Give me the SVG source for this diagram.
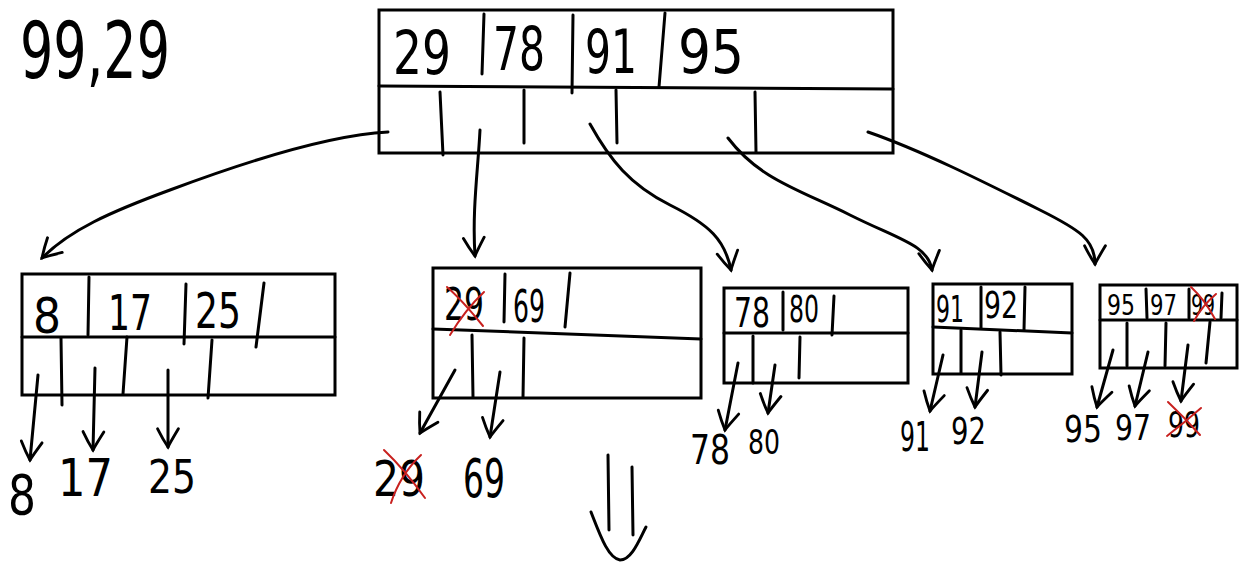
<svg xmlns="http://www.w3.org/2000/svg" width="1241" height="567" viewBox="0 0 1241 567">
<defs>
<style>
.box{fill:none;stroke:#000;stroke-width:3}
.ln{fill:none;stroke:#000;stroke-width:3;stroke-linecap:round;stroke-linejoin:round}
.x{fill:none;stroke:#c8201e;stroke-width:2;stroke-linecap:round}
.t{font-family:"DejaVu Sans","Liberation Sans",sans-serif;fill:#000;font-weight:normal}
.arr{fill:none;stroke:#000;stroke-width:3;stroke-linecap:round;stroke-linejoin:round;marker-end:url(#v)}
</style>
<marker id="v" viewBox="0 0 20 20" refX="18" refY="10" markerWidth="26" markerHeight="26" markerUnits="userSpaceOnUse" orient="auto">
<path d="M4,2 Q14,8 18,10 Q12,14 4,18" fill="none" stroke="#000" stroke-width="2.2" stroke-linecap="round"/>
</marker>
</defs>
<rect width="1241" height="567" fill="#fff"/>

<g id="title">
<text class="t" x="20" y="78" font-size="78" textLength="150" lengthAdjust="spacingAndGlyphs">99,29</text>
</g>

<g id="root">
<rect class="box" x="379" y="10" width="514" height="143"/>
<path class="ln" d="M379,86 L893,89"/>
<text class="t" x="393" y="74" font-size="60" textLength="58" lengthAdjust="spacingAndGlyphs">29</text>
<text class="t" x="493" y="70" font-size="60" textLength="52" lengthAdjust="spacingAndGlyphs">78</text>
<text class="t" x="585" y="73" font-size="60" textLength="52" lengthAdjust="spacingAndGlyphs">91</text>
<text class="t" x="678" y="73" font-size="60" textLength="66" lengthAdjust="spacingAndGlyphs">95</text>
<path class="ln" d="M484,14 L482,74 M573,15 L572,93 M665,13 L659,87"/>
<path class="ln" d="M440,92 L443,155 M524,90 L524,143 M616,90 L617,143 M755,92 L756,152"/>
</g>

<g id="leaf1">
<rect class="box" x="22" y="274" width="313" height="121"/>
<path class="ln" d="M22,337 L335,337"/>
<text class="t" x="33" y="333" font-size="50" textLength="28" lengthAdjust="spacingAndGlyphs">8</text>
<text class="t" x="108" y="330" font-size="50" textLength="44" lengthAdjust="spacingAndGlyphs">17</text>
<text class="t" x="195" y="328" font-size="50" textLength="46" lengthAdjust="spacingAndGlyphs">25</text>
<path class="ln" d="M89,277 L88,335 M186,284 L184,344 M264,283 L256,347"/>
<path class="ln" d="M61,338 L62,405 M127,337 L123,394 M212,340 L208,398"/>
<text class="t" x="8" y="514" font-size="56" textLength="28" lengthAdjust="spacingAndGlyphs">8</text>
<text class="t" x="58" y="496" font-size="52" textLength="55" lengthAdjust="spacingAndGlyphs">17</text>
<text class="t" x="148" y="493" font-size="46" textLength="48" lengthAdjust="spacingAndGlyphs">25</text>
</g>

<g id="leaf2">
<rect class="box" x="433" y="268" width="268" height="130"/>
<path class="ln" d="M433,329 L701,339"/>
<text class="t" x="444" y="320" font-size="44" textLength="40" lengthAdjust="spacingAndGlyphs">29</text>
<path class="x" d="M447,287 Q462,300 483,326 M484,292 Q465,310 450,335"/>
<path class="ln" d="M505,274 L504,322 M570,273 L565,327"/>
<text class="t" x="513" y="322" font-size="44" textLength="32" lengthAdjust="spacingAndGlyphs">69</text>
<path class="ln" d="M472,335 L473,397 M524,338 L523,397"/>
<text class="t" x="373" y="496" font-size="50" textLength="52" lengthAdjust="spacingAndGlyphs">29</text>
<path class="x" d="M384,450 Q405,470 425,498 M421,455 Q400,475 391,503"/>
<text class="t" x="463" y="497" font-size="54" textLength="42" lengthAdjust="spacingAndGlyphs">69</text>
</g>

<g id="leaf3">
<rect class="box" x="724" y="288" width="184" height="95"/>
<path class="ln" d="M724,333 L908,333"/>
<text class="t" x="734" y="327" font-size="40" textLength="36" lengthAdjust="spacingAndGlyphs">78</text>
<path class="ln" d="M783,292 L783,330 M834,296 L832,335"/>
<text class="t" x="789" y="322" font-size="38" textLength="30" lengthAdjust="spacingAndGlyphs">80</text>
<path class="ln" d="M753,336 L753,383 M800,337 L799,378"/>
<text class="t" x="690" y="464" font-size="40" textLength="40" lengthAdjust="spacingAndGlyphs">78</text>
<text class="t" x="748" y="454" font-size="34" textLength="32" lengthAdjust="spacingAndGlyphs">80</text>
</g>

<g id="leaf4">
<rect class="box" x="933" y="284" width="139" height="90"/>
<path class="ln" d="M933,327 L1072,333"/>
<text class="t" x="936" y="322" font-size="38" textLength="28" lengthAdjust="spacingAndGlyphs">91</text>
<path class="ln" d="M981,287 L981,328 M1025,287 L1024,330"/>
<text class="t" x="984" y="318" font-size="38" textLength="34" lengthAdjust="spacingAndGlyphs">92</text>
<path class="ln" d="M961,330 L961,373 M1000,332 L1001,375"/>
<text class="t" x="900" y="451" font-size="40" textLength="30" lengthAdjust="spacingAndGlyphs">91</text>
<text class="t" x="951" y="444" font-size="38" textLength="35" lengthAdjust="spacingAndGlyphs">92</text>
</g>

<g id="leaf5">
<rect class="box" x="1100" y="285" width="137" height="83"/>
<path class="ln" d="M1100,320 L1237,320"/>
<text class="t" x="1107" y="315" font-size="28" textLength="28" lengthAdjust="spacingAndGlyphs">95</text>
<path class="ln" d="M1146,289 L1147,318 M1189,289 L1189,318 M1222,293 L1221,318"/>
<text class="t" x="1150" y="315" font-size="28" textLength="27" lengthAdjust="spacingAndGlyphs">97</text>
<text class="t" x="1191" y="315" font-size="28" textLength="24" lengthAdjust="spacingAndGlyphs">99</text>
<path class="x" d="M1191,287 Q1205,300 1215,319 M1216,294 Q1202,306 1194,321"/>
<path class="ln" d="M1127,323 L1127,366 M1166,323 L1165,366 M1210,322 L1206,363"/>
<text class="t" x="1064" y="442" font-size="38" textLength="38" lengthAdjust="spacingAndGlyphs">95</text>
<text class="t" x="1115" y="440" font-size="36" textLength="36" lengthAdjust="spacingAndGlyphs">97</text>
<text class="t" x="1168" y="437" font-size="36" textLength="32" lengthAdjust="spacingAndGlyphs">99</text>
<path class="x" d="M1168,402 Q1185,418 1200,435 M1201,408 Q1185,422 1167,436"/>
</g>

<g id="connectors">
<path class="arr" d="M388,132 C330,135 250,160 170,190 C110,212 70,230 42,258"/>
<path class="arr" d="M480,130 C478,170 472,210 475,256"/>
<path class="arr" d="M590,124 C610,160 630,185 670,205 C710,225 725,240 731,270"/>
<path class="arr" d="M728,138 C760,180 800,190 850,215 C900,240 928,245 932,270"/>
<path class="arr" d="M868,132 C920,150 980,180 1040,210 C1080,230 1095,240 1095,264"/>
<path class="arr" d="M38,375 L30,460"/>
<path class="arr" d="M95,368 L93,450"/>
<path class="arr" d="M168,370 L168,447"/>
<path class="arr" d="M455,370 L420,433"/>
<path class="arr" d="M500,372 L490,437"/>
<path class="arr" d="M738,363 L725,430"/>
<path class="arr" d="M775,365 L768,413"/>
<path class="arr" d="M943,355 L930,411"/>
<path class="arr" d="M982,352 L975,407"/>
<path class="arr" d="M1113,350 L1097,407"/>
<path class="arr" d="M1148,352 L1135,406"/>
<path class="arr" d="M1188,345 L1181,401"/>
<path class="ln" d="M608,455 L609,530 M632,467 L633,535"/>
<path class="ln" d="M591,512 C600,535 608,558 620,560 C632,560 640,538 646,527"/>
</g>
</svg>
